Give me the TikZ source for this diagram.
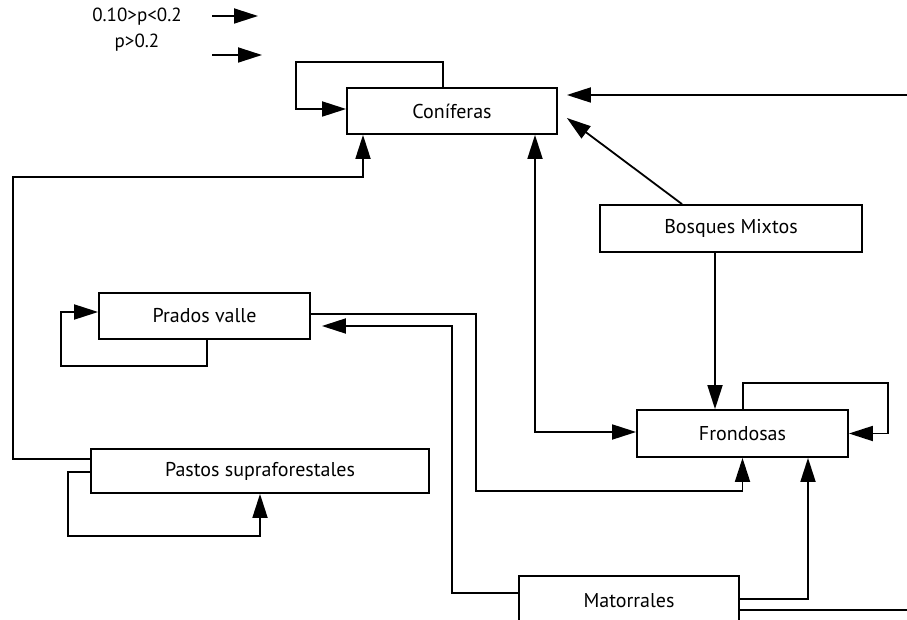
\documentclass[tikz,border=0pt]{standalone}
\usepackage{fontspec}
\setmainfont{PT Sans}
\usetikzlibrary{arrows.meta}

\begin{document}
\begin{tikzpicture}[x=1pt,y=-1pt,line width=1.8pt,
    estado/.style={draw,minimum height=46pt,inner sep=0pt,font=\fontsize{20}{22}\selectfont},
    flecha/.style={-{Triangle[length=24pt,width=15pt]}},
    doble/.style={{Triangle[length=24pt,width=15pt]}-{Triangle[length=24pt,width=15pt]}}]

      \useasboundingbox (0,0) rectangle (907,620);

      % leyenda
      \node[font=\fontsize{19}{21}\selectfont] (leyA) at (137,17) {0.10>p<0.2};
      \node[font=\fontsize{19}{21}\selectfont] (leyB) at (137,43) {p>0.2};
      \coordinate (fA0) at (212,16);
      \coordinate (fA1) at (258,16);
      \coordinate (fB0) at (212,55);
      \coordinate (fB1) at (262,55);
      \draw[flecha] (fA0) -- (fA1);
      \draw[flecha] (fB0) -- (fB1);

      \node[estado,minimum width=210pt] (con) at (452,111) {Coníferas};
      \node[estado,minimum width=262pt,minimum height=47pt] (bos) at (731,228.5) {Bosques Mixtos};
      \node[estado,minimum width=211pt,minimum height=47pt] (fro) at (742.5,433.5) {Frondosas};
      \node[estado,minimum width=211pt] (pra) at (204.5,316) {Prados valle};
      \node[estado,minimum width=338pt,minimum height=44pt] (pas) at (260,471) {Pastos supraforestales};
      \node[estado,minimum width=220pt,minimum height=50pt] (mat) at (629,601) {Matorrales};

      \draw[flecha] ([xshift=-9pt]con.north) |- (296,62) |- ([yshift=2pt]con.west);
      \draw[flecha,shorten >=9pt] ([yshift=-9pt]mat.east) -| (915,95) -- ([yshift=16pt]con.east);
      \draw[flecha] ([xshift=-49pt]bos.north) -- ([xshift=9pt,yshift=-7pt]con.east);
      \draw[flecha] ([xshift=-16pt]bos.south) -- ([xshift=-27.5pt]fro.north);
      \draw[doble] ([xshift=83pt]con.south) |- ([yshift=1.5pt]fro.west);
      \draw[flecha] ([xshift=0.5pt]fro.north) |- (888,383) |- (fro.east);
      \draw[flecha] ([yshift=2pt]pra.east) -| (476,491) -| (fro.south);
      \draw[flecha,shorten >=11pt] ([yshift=8pt]mat.west) -| (452,326) -- ([yshift=-10pt]pra.east);
      \draw[flecha] ([yshift=2pt]mat.east) -| ([xshift=65.5pt]fro.south);
      \draw[flecha] ([yshift=12pt]pas.west) -| (13,177) -| ([xshift=-89pt]con.south);
      \draw[flecha] ([yshift=-1pt]pas.west) -| (68,536) -| (pas.south);
      \draw[flecha] ([xshift=2.5pt]pra.south) |- (61,366) |- ([yshift=4pt]pra.west);

\end{tikzpicture}
\end{document}
